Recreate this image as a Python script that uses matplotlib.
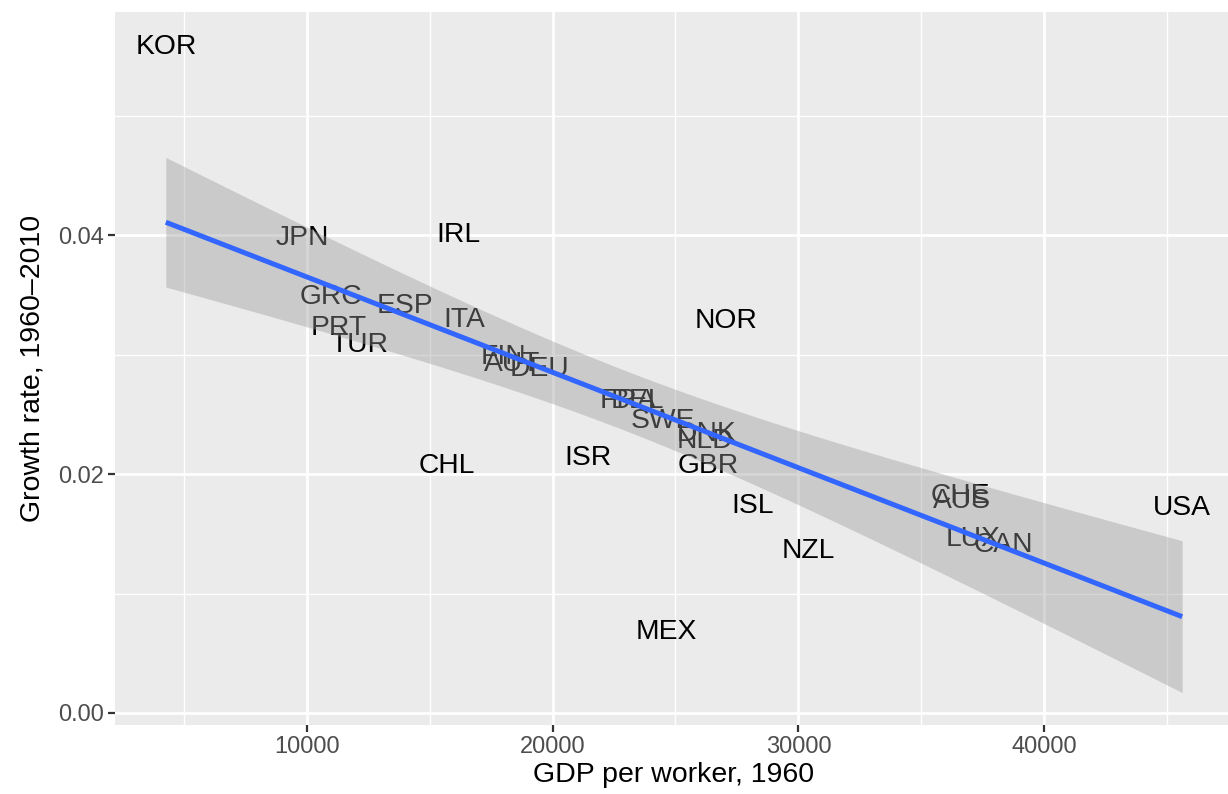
import numpy as np
import matplotlib
matplotlib.use('Agg')
import matplotlib.pyplot as plt
from matplotlib.ticker import FixedLocator

# ── Data ──────────────────────────────────────────────────────────────────────
countries = ['KOR', 'JPN', 'IRL', 'GRC', 'ESP', 'ITA', 'PRT', 'TUR', 'FIN', 'AUT',
             'DEU', 'CHL', 'MEX', 'CHE', 'AUS', 'LUX', 'CAN', 'USA', 'NOR', 'FRA',
             'BEL', 'SWE', 'DNK', 'NLD', 'GBR', 'ISR', 'ISL', 'NZL']
gdp_1960 = [4270, 9840, 16180, 10980, 13980, 16420, 11300, 12150, 18010, 18370,
            19470, 15690, 24630, 36590, 36670, 37110, 38330, 45610, 27070, 23050,
            23450, 24470, 26260, 26180, 26340, 21460, 28130, 30410]
growth = [0.0560, 0.0400, 0.0403, 0.0351, 0.0343, 0.0332, 0.0325, 0.0311, 0.0301, 0.0295,
          0.0291, 0.0209, 0.0070, 0.0184, 0.0180, 0.0148, 0.0143, 0.0174, 0.0331, 0.0264,
          0.0264, 0.0247, 0.0236, 0.0230, 0.0209, 0.0216, 0.0176, 0.0138]

# ── Style ─────────────────────────────────────────────────────────────────────
PANEL_BG   = '#EBEBEB'
RIBBON     = '#999999'
LINE_COLOR = '#3366FF'
TICK_COLOR = '#4D4D4D'
FONT       = ['Liberation Sans', 'DejaVu Sans']
DPI        = 100
W, H       = 1228, 794
T_975      = 2.0555    # t quantile, 26 df

plt.rcParams['font.family'] = FONT

x = np.array(gdp_1960, dtype=float)
y = np.array(growth)
n = len(x)

# linear fit + 95% band, like geom_smooth(method='lm')
b1, b0 = np.polyfit(x, y, 1)
resid = y - (b0 + b1 * x)
s = np.sqrt(np.sum(resid ** 2) / (n - 2))
xs = np.linspace(x.min(), x.max(), 80)
fit = b0 + b1 * xs
se = s * np.sqrt(1 / n + (xs - x.mean()) ** 2 / np.sum((x - x.mean()) ** 2))
lo, hi = fit - T_975 * se, fit + T_975 * se

# ── Plot ──────────────────────────────────────────────────────────────────────
fig = plt.figure(figsize=(W / DPI, H / DPI), dpi=DPI)
# panel runs slightly past the right edge, as in the reference crop
ax = fig.add_axes([115 / W, 69 / H, 1118 / W, 713 / H])
ax.set_facecolor(PANEL_BG)

# labels sit under the ribbon (ribbon greys them out)
for i, c in enumerate(countries):
    ax.text(x[i], y[i], c, ha='center', va='center_baseline', fontsize=20.3,
            color='black', zorder=2)

ax.fill_between(xs, lo, hi, color=RIBBON, alpha=0.4, linewidth=0, zorder=3)
ax.plot(xs, fit, color=LINE_COLOR, linewidth=3.6, solid_capstyle='butt', zorder=4)

# limits with ggplot-ish 5% expansion
xmin, xmax = x.min(), x.max()
ymin, ymax = min(y.min(), lo.min()), max(y.max(), hi.max())
dx, dy = (xmax - xmin) * 0.05, (ymax - ymin) * 0.05
ax.set_xlim(xmin - dx, xmax + dx)
ax.set_ylim(ymin - dy, ymax + dy)

ax.xaxis.set_major_locator(FixedLocator([10000, 20000, 30000, 40000]))
ax.xaxis.set_minor_locator(FixedLocator([5000, 15000, 25000, 35000, 45000]))
ax.yaxis.set_major_locator(FixedLocator([0.0, 0.02, 0.04]))
ax.yaxis.set_minor_locator(FixedLocator([0.01, 0.03, 0.05]))
ax.set_xticklabels(['10000', '20000', '30000', '40000'])
ax.set_yticklabels(['0.00', '0.02', '0.04'])

ax.grid(which='major', color='white', linewidth=2.0)
ax.grid(which='minor', color='white', linewidth=1.0)
ax.set_axisbelow(True)
for sp in ax.spines.values():
    sp.set_visible(False)

ax.tick_params(which='major', length=5, width=1.6, color='#333333',
               labelsize=17, labelcolor=TICK_COLOR, pad=3)
ax.tick_params(which='minor', length=0)

ax.set_xlabel('GDP per worker, 1960', fontsize=20.5, labelpad=3)
ax.set_ylabel('Growth rate, 1960\u20132010', fontsize=20.5, labelpad=9)

fig.savefig('out.png', dpi=DPI, facecolor='white')
plt.close(fig)
